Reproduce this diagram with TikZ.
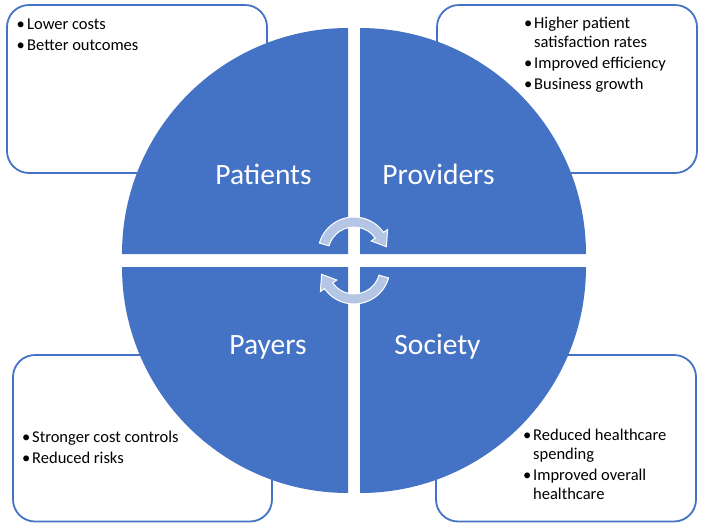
\documentclass[tikz,border=0pt]{standalone}
\usepackage{fontspec}
\setmainfont{Carlito}
\definecolor{accent}{RGB}{68,114,196}
\definecolor{arrowfill}{RGB}{180,197,230}

\begin{document}
\begin{tikzpicture}[x=1pt, y=-1pt,
  panel/.style={draw=accent, line width=1.8pt, fill=white, rounded corners=22pt},
  quarter/.style={fill=accent},
  quartertext/.style={text=white, font=\fontsize{29.5}{34}\selectfont, inner sep=0pt, anchor=base},
  notes/.style={font=\fontsize{16.5}{19}\selectfont, align=left, inner sep=0pt, anchor=base west},
  cyclearrow/.style={fill=arrowfill, draw=white, line width=1pt}]
\useasboundingbox (0,0) rectangle (702,523);
% boxes behind the circle
\draw[panel] (7,5) rectangle (267,173);
\draw[panel] (437,5) rectangle (697,173);
\draw[panel] (13,355) rectangle (272,521.5);
\draw[panel] (436,355) rectangle (696,521.5);
% four quarters
\fill[quarter] (348,254) -- (122,254) arc[start angle=180, end angle=270, radius=226] -- cycle;
\fill[quarter] (360,254) -- (360,28) arc[start angle=270, end angle=360, radius=226] -- cycle;
\fill[quarter] (360,267) -- (586,267) arc[start angle=0, end angle=90, radius=226] -- cycle;
\fill[quarter] (348,267) -- (348,493) arc[start angle=90, end angle=180, radius=226] -- cycle;
\node[quartertext] (patients) at (263.5,184) {Patients};
\node[quartertext] (providers) at (438.5,184) {Providers};
\node[quartertext] (payers) at (268,354) {Payers};
\node[quartertext] (society) at (437.5,354) {Society};
% cycle arrows
\draw[cyclearrow, shift={(354,253)}] (196:36) arc[start angle=196, end angle=325, radius=36]
  -- (325:41) -- (349:33) -- (325:21) -- (325:26) arc[start angle=325, end angle=196, radius=26] -- cycle;
\draw[cyclearrow, shift={(354,268)}] (16:36) arc[start angle=16, end angle=145, radius=36]
  -- (145:41) -- (169:33) -- (145:21) -- (145:26) arc[start angle=145, end angle=16, radius=26] -- cycle;
% notes (anchored at the baseline of the last line)
\node[notes] (patientnotes) at (16.5,50) {\makebox[10.5pt][l]{\textbullet}Lower costs\\[2pt]
  \makebox[10.5pt][l]{\textbullet}Better outcomes};
\node[notes] (providernotes) at (524,89) {\makebox[10pt][l]{\textbullet}Higher patient\\
  \hspace*{10pt}satisfaction rates\\[2pt]
  \makebox[10pt][l]{\textbullet}Improved efficiency\\[2pt]
  \makebox[10pt][l]{\textbullet}Business growth};
\node[notes] (payernotes) at (22,463) {\makebox[10pt][l]{\textbullet}Stronger cost controls\\[2pt]
  \makebox[10pt][l]{\textbullet}Reduced risks};
\node[notes] (societynotes) at (523,499) {\makebox[10pt][l]{\textbullet}Reduced healthcare\\
  \hspace*{10pt}spending\\[2pt]
  \makebox[10pt][l]{\textbullet}Improved overall\\
  \hspace*{10pt}healthcare};
\end{tikzpicture}
\end{document}
